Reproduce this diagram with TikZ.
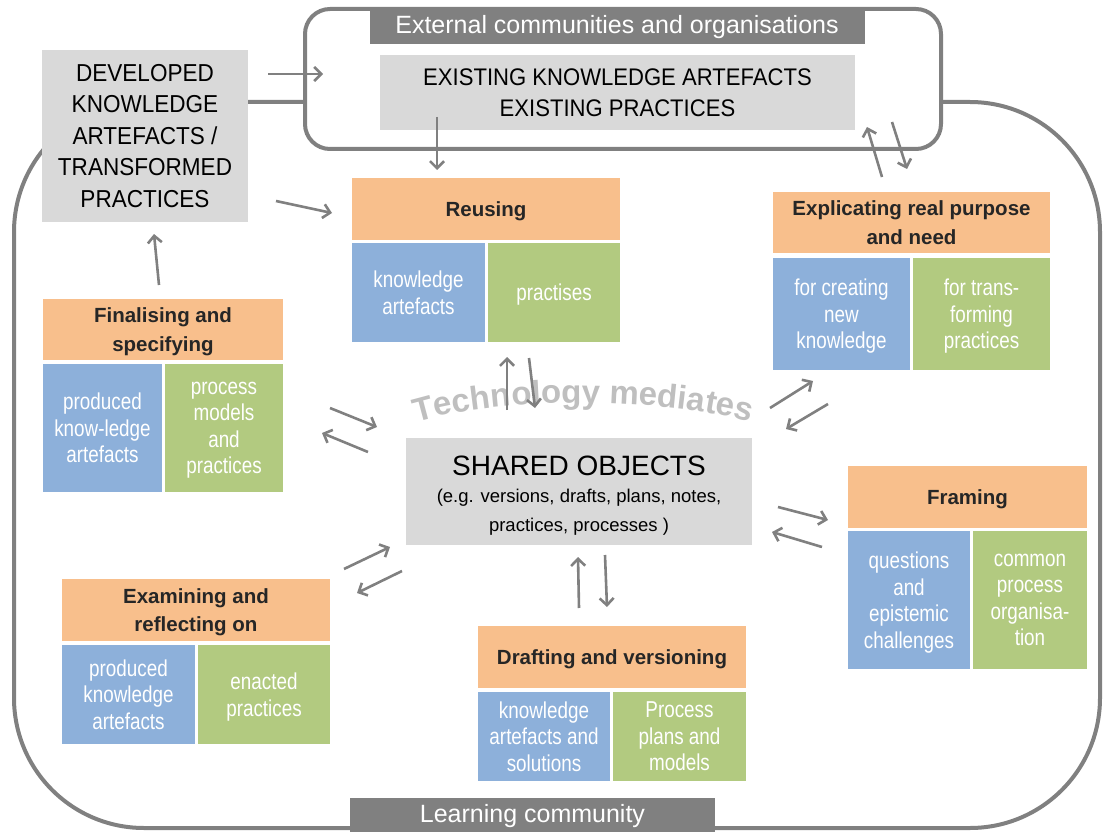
\documentclass[tikz,border=0pt]{standalone}
\usepackage{fontspec}
\setmainfont{Liberation Sans}
\newfontfamily\nfont{Liberation Sans}[FakeStretch=0.82]
\newfontfamily\mfont{Liberation Sans}[FakeStretch=0.92]
\usetikzlibrary{arrows.meta,decorations.text}
\definecolor{orH}{HTML}{F8BF8C}
\definecolor{blC}{HTML}{8DB0DA}
\definecolor{grC}{HTML}{B2CA80}
\definecolor{lgrey}{HTML}{D9D9D9}
\definecolor{dgrey}{HTML}{808080}
\definecolor{techgrey}{HTML}{BFBFBF}
\definecolor{txt}{HTML}{262626}
\begin{document}
\begin{tikzpicture}[x=1pt,y=-1pt,
 box/.style={inner sep=0pt, outer sep=0pt, align=center, draw=none},
 hdr/.style={box, fill=orH, font=\bfseries\fontsize{20.5}{28.5}\selectfont, text=txt, text depth=-5pt},
 bcell/.style={box, fill=blC, font=\nfont\fontsize{23}{26.5}\selectfont, text=white, text depth=-2pt},
 gcell/.style={box, fill=grC, font=\nfont\fontsize{23}{26.5}\selectfont, text=white, text depth=-2pt},
 gbox/.style={box, fill=lgrey, text=black},
 lbl/.style={box, fill=dgrey, text=white, font=\fontsize{25}{30}\selectfont},
 arr/.style={draw=dgrey, line width=2.6pt, -{Straight Barb[length=7pt,width=14pt]}},
 frame/.style={draw=dgrey, line width=4pt}
]
\useasboundingbox (0,0) rectangle (1104,832);
% outer learning community frame
\draw[frame, rounded corners=130pt] (14,102) rectangle (1100,828);
% external frame
\draw[frame, fill=white, rounded corners=25pt] (305,9) rectangle (941,149);
\node[lbl, minimum width=495pt, minimum height=34pt] (extlbl) at (617,27) {External communities and organisations};
\node[lbl, minimum width=365pt, minimum height=36pt] (learnlbl) at (532.5,816) {Learning community};

\node[gbox, minimum width=475pt, minimum height=75pt, font=\mfont\fontsize{24}{31}\selectfont] (exist) at (617.5,92.5) {EXISTING KNOWLEDGE ARTEFACTS\\EXISTING PRACTICES};
\node[gbox, minimum width=206pt, minimum height=172pt, font=\mfont\fontsize{24.5}{31.5}\selectfont] (dev) at (145,136) {DEVELOPED\\KNOWLEDGE\\ARTEFACTS /\\TRANSFORMED\\PRACTICES};

% shared objects
\node[gbox, minimum width=346pt, minimum height=107pt] (shared) at (579,491.5) {};
\node[box, font=\fontsize{28}{32}\selectfont] (sharedt) at (579,466) {SHARED OBJECTS};
\node[box, font=\fontsize{18.5}{29}\selectfont] (shareds) at (579,512) {(e.g. versions, drafts, plans, notes,\\practices, processes )};

% Reusing
\node[hdr, minimum width=268pt, minimum height=62pt] (reuseh) at (486,209) {Reusing};
\node[bcell, minimum width=133pt, minimum height=99pt] (reuseb) at (418.5,292.5) {knowledge\\artefacts};
\node[gcell, minimum width=132pt, minimum height=99pt] (reuseg) at (554,292.5) {practises};

% Explicating
\node[hdr, minimum width=277pt, minimum height=61pt] (explh) at (911.5,222.5) {Explicating real purpose\\and need};
\node[bcell, minimum width=137pt, minimum height=112pt] (explb) at (841.5,314) {for creating\\new\\knowledge};
\node[gcell, minimum width=137pt, minimum height=112pt] (explg) at (981.5,314) {for trans-\\forming\\practices};

% Finalising
\node[hdr, minimum width=240pt, minimum height=61pt] (finh) at (163,329.5) {Finalising and\\specifying};
\node[bcell, minimum width=119pt, minimum height=128pt] (finb) at (102.5,428) {produced\\know-ledge\\artefacts};
\node[gcell, minimum width=118pt, minimum height=128pt] (fing) at (224,428) {process\\models\\and\\practices};

% Framing
\node[hdr, minimum width=239pt, minimum height=62pt] (framh) at (967.5,497) {Framing};
\node[bcell, minimum width=122pt, minimum height=138pt] (framb) at (909,600) {questions\\and\\epistemic\\challenges};
\node[gcell, minimum width=114pt, minimum height=138pt] (framg) at (1030,600) {common\\process\\organisa-\\tion};

% Examining
\node[hdr, minimum width=268pt, minimum height=62pt] (examh) at (196,610) {Examining and\\reflecting on};
\node[bcell, minimum width=133pt, minimum height=99pt] (examb) at (128.5,694.5) {produced\\knowledge\\artefacts};
\node[gcell, minimum width=132pt, minimum height=99pt] (examg) at (264,694.5) {enacted\\practices};

% Drafting
\node[hdr, minimum width=268pt, minimum height=62pt] (drafh) at (612,657) {Drafting and versioning};
\node[bcell, minimum width=132pt, minimum height=89pt] (drafb) at (544,736.5) {knowledge\\artefacts and\\solutions};
\node[gcell, minimum width=133pt, minimum height=89pt] (drafg) at (679.5,736.5) {Process\\plans and\\models};

% Technology mediates
\path[decorate, decoration={text along path, text align=center, text color=techgrey,
  text={|\bfseries\fontsize{33}{33}\selectfont|Technology mediates}}]
  (405,426) .. controls (495,393) and (685,398) .. (762,426);

% arrow end points
\coordinate (a1) at (268,74);  \coordinate (a2) at (323,74);
\coordinate (b1) at (276,201); \coordinate (b2) at (332,213);
\coordinate (c1) at (159,285); \coordinate (c2) at (154,234);
\coordinate (d1) at (437,117); \coordinate (d2) at (437,170);
\coordinate (e1) at (882,177); \coordinate (e2) at (867,127);
\coordinate (e3) at (892,122); \coordinate (e4) at (907,169);
\coordinate (f1) at (507,410); \coordinate (f2) at (507,357);
\coordinate (f3) at (529,358); \coordinate (f4) at (535,408);
\coordinate (g1) at (330,408); \coordinate (g2) at (377,427);
\coordinate (g3) at (368,452); \coordinate (g4) at (322,433);
\coordinate (h1) at (770,408); \coordinate (h2) at (813,381);
\coordinate (h3) at (828,404); \coordinate (h4) at (786,429);
\coordinate (i1) at (778,507); \coordinate (i2) at (828,520);
\coordinate (i3) at (822,547); \coordinate (i4) at (772,532);
\coordinate (j1) at (344,569); \coordinate (j2) at (390,547);
\coordinate (j3) at (402,571); \coordinate (j4) at (357,593);
\coordinate (k1) at (579,608); \coordinate (k2) at (578,557);
\coordinate (k3) at (605,555); \coordinate (k4) at (607,607);

\foreach \s/\e in {a1/a2,b1/b2,c1/c2,d1/d2,e1/e2,e3/e4,f1/f2,f3/f4,g1/g2,g3/g4,h1/h2,h3/h4,i1/i2,i3/i4,j1/j2,j3/j4,k1/k2,k3/k4}
  \draw[arr] (\s) -- (\e);
\end{tikzpicture}
\end{document}
